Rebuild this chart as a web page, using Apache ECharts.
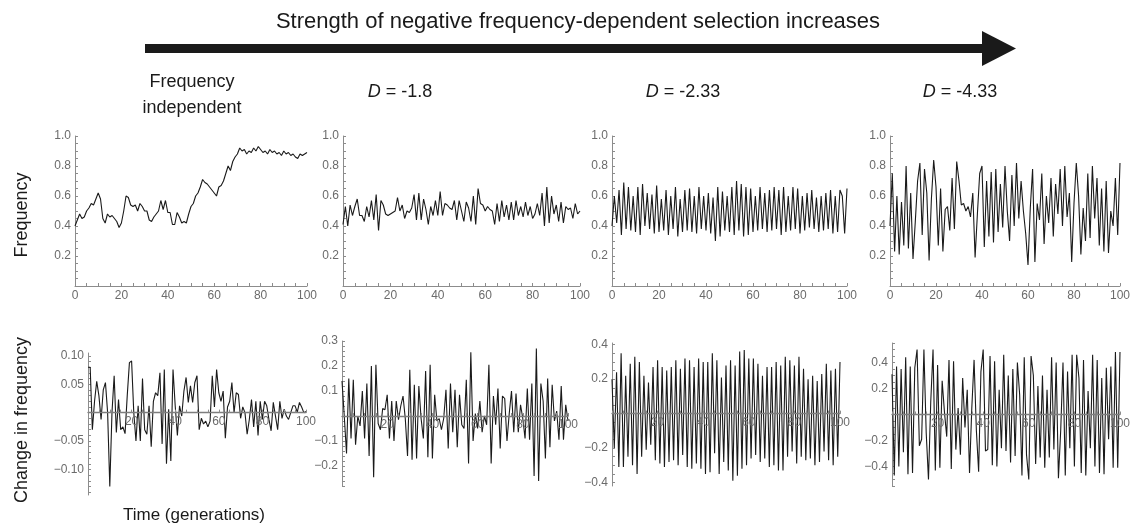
<!DOCTYPE html>
<html>
<head>
<meta charset="utf-8">
<script src="https://cdn.jsdelivr.net/npm/echarts@6/dist/echarts.min.js"></script>
<style>
  html, body { margin: 0; background: #fff; }
  #chart { width: 1133px; height: 529px; }
</style>
</head>
<body>
<div id="chart"></div>
<script>
// frequency over time, one array per panel
let freqIndependent = [0.40,0.44,0.48,0.45,0.46,0.50,0.52,0.55,0.54,0.58,
  0.62,0.58,0.45,0.42,0.48,0.46,0.47,0.45,0.43,0.39,
  0.42,0.50,0.60,0.59,0.54,0.53,0.54,0.50,0.55,0.53,
  0.50,0.50,0.44,0.43,0.46,0.48,0.50,0.57,0.51,0.57,
  0.49,0.49,0.41,0.41,0.49,0.46,0.42,0.43,0.42,0.48,
  0.53,0.55,0.60,0.62,0.66,0.71,0.69,0.68,0.66,0.64,
  0.62,0.60,0.66,0.67,0.70,0.75,0.80,0.77,0.83,0.86,
  0.88,0.92,0.90,0.91,0.88,0.90,0.89,0.92,0.90,0.93,
  0.91,0.89,0.90,0.88,0.91,0.89,0.90,0.88,0.89,0.87,
  0.90,0.88,0.89,0.87,0.88,0.86,0.85,0.88,0.87,0.88,
  0.89]
let freqD18 = [0.41,0.53,0.40,0.54,0.47,0.53,0.58,0.47,0.47,0.43,
  0.53,0.46,0.57,0.44,0.61,0.37,0.57,0.54,0.48,0.47,
  0.48,0.49,0.50,0.59,0.50,0.54,0.45,0.50,0.49,0.52,
  0.61,0.44,0.62,0.44,0.58,0.51,0.41,0.53,0.47,0.57,
  0.47,0.63,0.47,0.55,0.54,0.52,0.51,0.57,0.44,0.57,
  0.50,0.43,0.56,0.52,0.43,0.60,0.41,0.65,0.55,0.54,
  0.50,0.53,0.51,0.50,0.41,0.55,0.43,0.57,0.46,0.54,
  0.44,0.56,0.44,0.57,0.47,0.53,0.46,0.56,0.47,0.53,
  0.45,0.48,0.55,0.47,0.62,0.40,0.66,0.42,0.60,0.48,
  0.54,0.43,0.56,0.42,0.53,0.51,0.52,0.45,0.55,0.48,
  0.50]
let freqD233 = [0.40,0.60,0.42,0.64,0.34,0.69,0.38,0.66,0.37,0.60,
  0.36,0.66,0.34,0.68,0.40,0.62,0.38,0.61,0.35,0.67,
  0.36,0.58,0.37,0.64,0.34,0.60,0.38,0.66,0.33,0.58,
  0.36,0.64,0.37,0.65,0.36,0.60,0.35,0.66,0.38,0.60,
  0.37,0.62,0.35,0.59,0.30,0.66,0.33,0.63,0.37,0.60,
  0.36,0.66,0.34,0.70,0.37,0.68,0.33,0.66,0.34,0.65,
  0.36,0.60,0.37,0.66,0.38,0.62,0.36,0.64,0.37,0.66,
  0.38,0.64,0.34,0.66,0.36,0.60,0.37,0.66,0.38,0.65,
  0.35,0.60,0.37,0.62,0.39,0.64,0.38,0.59,0.36,0.60,
  0.37,0.62,0.38,0.64,0.35,0.60,0.36,0.64,0.60,0.35,
  0.65]
let freqD433 = [0.40,0.75,0.23,0.60,0.21,0.56,0.27,0.80,0.25,0.62,
  0.18,0.43,0.70,0.82,0.34,0.78,0.62,0.17,0.58,0.84,
  0.66,0.27,0.65,0.23,0.51,0.53,0.37,0.72,0.38,0.83,
  0.70,0.54,0.55,0.50,0.53,0.46,0.62,0.19,0.48,0.75,
  0.80,0.26,0.70,0.33,0.76,0.29,0.78,0.36,0.68,0.39,
  0.80,0.50,0.30,0.74,0.40,0.82,0.45,0.70,0.50,0.35,
  0.14,0.52,0.78,0.16,0.55,0.44,0.75,0.28,0.60,0.42,
  0.72,0.33,0.68,0.48,0.78,0.40,0.80,0.46,0.62,0.16,
  0.55,0.82,0.60,0.21,0.52,0.30,0.75,0.32,0.80,0.45,
  0.72,0.27,0.65,0.23,0.70,0.22,0.50,0.40,0.72,0.34,
  0.82]

// change in frequency
let changeIndependent = [0.08,0.08,-0.03,0.02,0.055,0.03,-0.012,0.04,0.053,0.0,
  -0.13,0.0,0.065,-0.035,0.023,-0.03,-0.025,-0.037,0.03,0.088,
  0.091,0.0,-0.05,0.012,-0.05,0.06,-0.03,-0.038,0.012,-0.06,
  0.02,0.035,0.03,0.07,-0.055,0.076,-0.09,0.006,-0.085,0.076,
  0.012,-0.04,0.012,-0.006,0.038,0.062,0.018,0.047,0.018,0.053,
  0.065,-0.03,-0.01,-0.02,-0.015,-0.025,-0.015,0.065,0.01,0.076,
  0.035,0.02,0.038,-0.045,0.01,0.02,0.053,0.0,0.035,0.032,
  -0.01,0.01,0.0,-0.038,-0.012,0.023,-0.025,0.02,-0.04,0.02,
  -0.012,0.02,0.012,-0.012,-0.032,0.018,-0.006,-0.03,0.02,-0.01,
  0.006,-0.006,-0.012,0.0,0.012,0.012,0.001,0.018,0.01,0.0,
  0.002]
let changeD18 = [0.14,0,-0.15,0.15,-0.09,0.145,-0.115,0,-0.04,0.10,
  -0.09,0.13,-0.16,0.20,-0.245,0.205,-0.03,-0.055,0.03,0.025,
  0.085,-0.09,0.06,-0.10,0.06,-0.015,0.04,0.08,-0.01,-0.16,
  0.185,-0.175,0.125,-0.17,0.12,-0.01,-0.09,0.18,-0.165,0.205,
  -0.17,0.085,-0.02,-0.01,-0.055,-0.01,0.105,-0.13,0.13,-0.065,
  0.105,-0.125,0.085,-0.035,-0.05,0.145,-0.19,0.255,-0.10,0.01,
  -0.05,0.06,-0.065,0,-0.035,0.205,-0.19,0.08,-0.035,0.11,
  -0.13,0.08,0.07,-0.10,0.01,0.10,-0.065,0.09,-0.065,0.045,
  -0.01,-0.09,0.11,-0.095,0.13,-0.24,0.27,-0.26,0.13,0.06,
  -0.17,0.15,-0.125,0.125,-0.02,0.02,-0.095,0.12,-0.095,0.045,
  -0.02]
let changeD233 = [0.20,-0.20,0.24,-0.31,0.35,-0.31,0.22,-0.25,0.29,-0.30,
  0.33,-0.35,0.30,-0.25,0.22,-0.21,0.18,-0.18,0.27,-0.27,
  0.31,-0.29,0.27,-0.31,0.25,-0.28,0.27,-0.27,0.31,-0.30,
  0.26,-0.24,0.32,-0.31,0.31,-0.32,0.27,-0.29,0.32,-0.32,
  0.30,-0.35,0.30,-0.34,0.35,-0.23,0.31,-0.35,0.21,-0.28,
  0.28,-0.33,0.31,-0.39,0.28,-0.36,0.36,-0.32,0.37,-0.30,
  0.32,-0.26,0.32,-0.24,0.29,-0.28,0.22,-0.26,0.27,-0.31,
  0.27,-0.30,0.30,-0.33,0.28,-0.33,0.33,-0.25,0.31,-0.22,
  0.28,-0.29,0.33,-0.25,0.26,-0.27,0.20,-0.26,0.22,-0.30,
  0.19,-0.28,0.23,-0.22,0.29,-0.27,0.25,-0.30,0.26,-0.25,
  0.30]
let changeD433 = [0.31,-0.47,0.37,-0.40,0.35,-0.29,0.44,-0.46,0.37,-0.45,
  0.36,0.50,-0.24,-0.19,0.50,-0.14,-0.50,0.10,0.50,-0.43,
  0.38,-0.41,0.26,0.02,-0.17,0.42,-0.42,0.41,-0.27,0.05,
  -0.31,0.28,-0.10,0.19,-0.45,0.05,0.42,-0.12,-0.44,0.33,
  0.50,-0.28,-0.27,0.45,-0.39,0.41,-0.40,0.19,-0.26,0.46,
  -0.28,0.30,-0.37,0.35,-0.32,0.40,0.15,-0.47,0.44,-0.31,
  -0.50,0.45,0.30,-0.38,0.22,-0.33,0.30,-0.41,0.19,-0.33,
  0.44,-0.27,0.40,-0.49,-0.12,0.40,-0.47,0.33,-0.26,0.46,
  -0.40,0.46,0.28,-0.45,0.42,-0.47,0.18,-0.26,0.46,-0.40,
  0.42,-0.45,0.28,-0.46,0.36,-0.19,0.37,-0.41,0.48,-0.41,
  0.48]

// tick labels
let timeLabelsTop = [0, 20, 40, 60, 80, 100]
let timeLabelsBottom = [20, 40, 60, 80, 100]
let freqLabels = [0.2, 0.4, 0.6, 0.8, 1.0]
let changeLabelsIndep = [-0.10, -0.05, 0.05, 0.10]
let changeLabelsD18 = [-0.2, -0.1, 0.1, 0.2, 0.3]
let changeLabelsD233 = [-0.4, -0.2, 0.2, 0.4]
let changeLabelsD433 = [-0.4, -0.2, 0.2, 0.4]

let columnTitles = ['D = -1.8', 'D = -2.33', 'D = -4.33']

const FONT = 'Liberation Sans, Arial, Helvetica, sans-serif'
const AXIS_GREY = '#8c8c8c'
const LABEL_GREY = '#6b6b6b'

function steps(min, max, step) {
  let out = []
  let n = Math.round((max - min) / step)
  for (let i = 0; i <= n; i++) out.push(+(min + i * step).toFixed(4))
  return out
}

let panels = [
  { data: freqIndependent, grid: { left: 75, top: 136, width: 232, height: 150 }, min: 0, max: 1, yLabels: freqLabels, minor: 0.05, digits: 1, top: true },
  { data: freqD18, grid: { left: 343, top: 136, width: 237, height: 150 }, min: 0, max: 1, yLabels: freqLabels, minor: 0.05, digits: 1, top: true },
  { data: freqD233, grid: { left: 612, top: 136, width: 235, height: 150 }, min: 0, max: 1, yLabels: freqLabels, minor: 0.05, digits: 1, top: true },
  { data: freqD433, grid: { left: 890, top: 136, width: 237, height: 150 }, min: 0, max: 1, yLabels: freqLabels, minor: 0.05, digits: 1, top: true },
  { data: changeIndependent, grid: { left: 88, top: 353, width: 218, height: 142 }, min: -0.145, max: 0.105, yLabels: changeLabelsIndep, minor: 0.01, digits: 2 },
  { data: changeD18, grid: { left: 342, top: 341, width: 226, height: 145 }, min: -0.28, max: 0.3, yLabels: changeLabelsD18, minor: 0.02, digits: 1 },
  { data: changeD233, grid: { left: 612, top: 343, width: 228, height: 143 }, min: -0.42, max: 0.41, yLabels: changeLabelsD233, minor: 0.05, digits: 1 },
  { data: changeD433, grid: { left: 892, top: 343, width: 228, height: 143 }, min: -0.55, max: 0.55, yLabels: changeLabelsD433, minor: 0.05, digits: 1 }
]

function fmt(v, digits) {
  return (v < 0 ? '\u2212' : '') + Math.abs(v).toFixed(digits)
}

function buildOption() {
  let option = {
    animation: false,
    backgroundColor: '#fff',
    grid: [], xAxis: [], yAxis: [], series: [],
    graphic: []
  }
  panels.forEach((p, i) => {
    option.grid.push(Object.assign({ containLabel: false }, p.grid))
    // bottom row: time axis sits on y = 0, labels too, drawn over the data
    let zeroOffset = p.top ? 0 : -(0 - p.min) / (p.max - p.min) * p.grid.height
    option.xAxis.push({
      type: 'value', gridIndex: i, min: 0, max: 100,
      position: 'bottom', offset: zeroOffset, z: p.top ? 0 : 5,
      axisLine: { show: true, onZero: false, lineStyle: { color: p.top ? AXIS_GREY : '#7d7d7d', width: p.top ? 1 : 1.4 } },
      axisTick: { show: true, inside: true, length: 3, customValues: steps(0, 100, 5), lineStyle: { color: AXIS_GREY } },
      axisLabel: {
        show: true, customValues: p.top ? timeLabelsTop : timeLabelsBottom,
        margin: p.top ? 4 : 3, color: LABEL_GREY, fontSize: 12, fontFamily: FONT
      },
      splitLine: { show: false }
    })
    let yTicks = steps(Math.ceil(p.min / p.minor - 1e-6) * p.minor, p.max, p.minor)
    option.yAxis.push({
      type: 'value', gridIndex: i, min: p.min, max: p.max,
      axisLine: { show: true, onZero: false, lineStyle: { color: AXIS_GREY, width: 1 } },
      axisTick: { show: true, inside: true, length: 3, customValues: yTicks, lineStyle: { color: AXIS_GREY } },
      axisLabel: {
        show: true, customValues: p.yLabels, margin: 4,
        color: LABEL_GREY, fontSize: 12, fontFamily: FONT,
        formatter: v => fmt(v, p.digits)
      },
      splitLine: { show: false }
    })
    option.series.push({
      type: 'line', xAxisIndex: i, yAxisIndex: i,
      data: p.data.map((v, t) => [t, v]),
      showSymbol: false, symbol: 'none',
      lineStyle: { color: '#1a1a1a', width: 1.1 },
      z: 2
    })
  })

  // header: title, arrow, column titles
  option.graphic.push({
    type: 'text', x: 578, y: 22,
    style: { text: 'Strength of negative frequency-dependent selection increases', fill: '#1a1a1a', font: '22px ' + FONT, align: 'center', verticalAlign: 'middle' }
  })
  option.graphic.push({
    type: 'rect', shape: { x: 145, y: 44, width: 842, height: 9 }, style: { fill: '#1a1a1a' }
  })
  option.graphic.push({
    type: 'polygon', shape: { points: [[982, 31], [1016, 48.5], [982, 66]] }, style: { fill: '#1a1a1a' }
  })
  option.graphic.push({
    type: 'text', x: 192, y: 82,
    style: { text: 'Frequency', fill: '#1a1a1a', font: '18px ' + FONT, align: 'center', verticalAlign: 'middle' }
  })
  option.graphic.push({
    type: 'text', x: 192, y: 108,
    style: { text: 'independent', fill: '#1a1a1a', font: '18px ' + FONT, align: 'center', verticalAlign: 'middle' }
  })
  let titleX = [400, 683, 960]
  columnTitles.forEach((t, k) => {
    option.graphic.push({
      type: 'text', x: titleX[k], y: 92,
      style: {
        text: '{i|D}' + t.slice(1), fill: '#1a1a1a', font: '18px ' + FONT, align: 'center', verticalAlign: 'middle',
        rich: { i: { fontStyle: 'italic', fontSize: 18, fontFamily: FONT, fill: '#1a1a1a' } }
      }
    })
  })

  // side and bottom axis titles
  option.graphic.push({
    type: 'text', x: 22, y: 215, rotation: Math.PI / 2,
    style: { text: 'Frequency', fill: '#1a1a1a', font: '18px ' + FONT, align: 'center', verticalAlign: 'middle' }
  })
  option.graphic.push({
    type: 'text', x: 22, y: 420, rotation: Math.PI / 2,
    style: { text: 'Change in frequency', fill: '#1a1a1a', font: '18px ' + FONT, align: 'center', verticalAlign: 'middle' }
  })
  option.graphic.push({
    type: 'text', x: 123, y: 515,
    style: { text: 'Time (generations)', fill: '#1a1a1a', font: '17px ' + FONT, align: 'left', verticalAlign: 'middle' }
  })
  return option
}

let chart = echarts.init(document.getElementById('chart'), null, { renderer: 'canvas' })
chart.setOption(buildOption())
</script>
</body>
</html>
